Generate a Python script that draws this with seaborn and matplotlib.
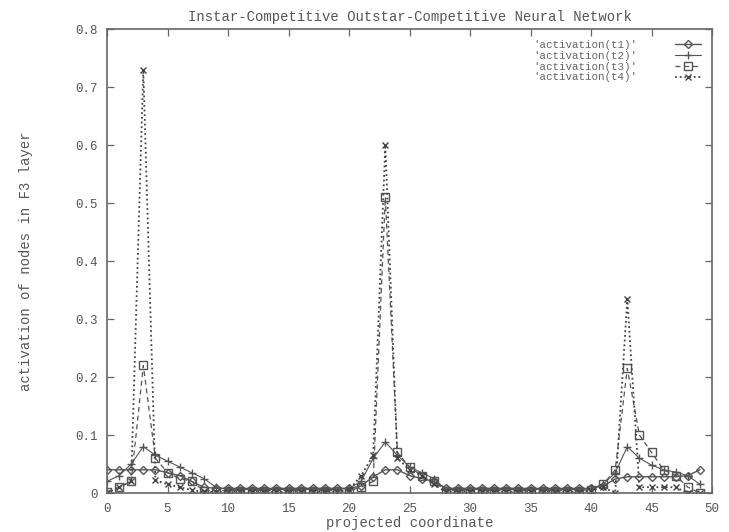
import matplotlib
matplotlib.use("Agg")
import matplotlib.pyplot as plt
import numpy as np
import pandas as pd
import seaborn as sns

# ---------------- data ----------------
coord = list(range(50))
t1 = [0.04, 0.04, 0.04, 0.04, 0.04, 0.035, 0.03, 0.02, 0.01, 0.008,
      0.008, 0.008, 0.008, 0.008, 0.008, 0.008, 0.008, 0.008, 0.008, 0.008,
      0.008, 0.012, 0.028, 0.04, 0.04, 0.03, 0.025, 0.02, 0.008, 0.008,
      0.008, 0.008, 0.008, 0.008, 0.008, 0.008, 0.008, 0.008, 0.008, 0.008,
      0.008, 0.012, 0.024, 0.028, 0.028, 0.028, 0.028, 0.028, 0.03, 0.04]
t2 = [0.02, 0.03, 0.05, 0.08, 0.065, 0.055, 0.045, 0.035, 0.025, 0.01,
      0.006, 0.006, 0.006, 0.006, 0.006, 0.006, 0.006, 0.006, 0.006, 0.006,
      0.008, 0.02, 0.06, 0.088, 0.065, 0.045, 0.035, 0.025, 0.006, 0.006,
      0.006, 0.006, 0.006, 0.006, 0.006, 0.006, 0.006, 0.006, 0.006, 0.006,
      0.008, 0.015, 0.035, 0.08, 0.06, 0.048, 0.04, 0.036, 0.03, 0.015]
t3 = [0.002, 0.01, 0.02, 0.22, 0.06, 0.035, 0.025, 0.02, 0.004, 0.004,
      0.004, 0.004, 0.004, 0.004, 0.004, 0.004, 0.004, 0.004, 0.004, 0.004,
      0.004, 0.01, 0.02, 0.51, 0.07, 0.045, 0.03, 0.02, 0.004, 0.004,
      0.004, 0.004, 0.004, 0.004, 0.004, 0.004, 0.004, 0.004, 0.004, 0.004,
      0.006, 0.015, 0.04, 0.215, 0.1, 0.07, 0.04, 0.03, 0.01, 0.0]
t4 = [0.0, 0.01, 0.02, 0.73, 0.022, 0.015, 0.01, 0.005, 0.002, 0.002,
      0.002, 0.002, 0.002, 0.002, 0.002, 0.002, 0.002, 0.002, 0.002, 0.002,
      0.005, 0.03, 0.065, 0.60, 0.06, 0.04, 0.03, 0.015, 0.002, 0.002,
      0.002, 0.002, 0.002, 0.002, 0.002, 0.002, 0.002, 0.002, 0.002, 0.002,
      0.004, 0.01, 0.0, 0.335, 0.01, 0.01, 0.01, 0.01, 0.0, 0.0]
series_names = ["'activation(t1)'", "'activation(t2)'",
                "'activation(t3)'", "'activation(t4)'"]
x_ticks = [0, 5, 10, 15, 20, 25, 30, 35, 40, 45, 50]
y_ticks = [0, 0.1, 0.2, 0.3, 0.4, 0.5, 0.6, 0.7, 0.8]
y_ticklabels = ["0", "0.1", "0.2", "0.3", "0.4", "0.5", "0.6", "0.7", "0.8"]

df = pd.DataFrame({
    "coord": coord * 4,
    "value": t1 + t2 + t3 + t4,
    "series": sum([[n] * len(coord) for n in series_names], []),
})

# ---------------- style ----------------
sns.set_theme(style="ticks")
plt.rcParams["font.family"] = ["Liberation Mono", "DejaVu Sans Mono"]
txt = "#555555"
edge = "#666666"

fig = plt.figure(figsize=(7.29, 5.32), dpi=100)
ax = fig.add_axes([107 / 729, 39 / 532, 605 / 729, 464 / 532])

styles = {
    series_names[0]: dict(marker="D", ls="-", lw=1.0, ms=4, color="#555555", mfc="none"),
    series_names[1]: dict(marker="+", ls="-", lw=0.8, ms=6, color="#555555", mfc="none"),
    series_names[2]: dict(marker="s", ls=(0, (4, 3)), lw=0.9, ms=6, color="#555555", mfc="none"),
    series_names[3]: dict(marker="x", ls=(0, (1, 1.6)), lw=1.3, ms=5, color="#444444", mfc="none"),
}

for name in series_names:
    st = styles[name]
    sns.lineplot(data=df[df["series"] == name], x="coord", y="value", ax=ax,
                 color=st["color"], linestyle=st["ls"], linewidth=st["lw"],
                 marker=st["marker"], markersize=st["ms"],
                 markerfacecolor=st["mfc"], markeredgecolor=st["color"],
                 markeredgewidth=1.0, label=name)

ax.set_xlim(0, 50)
ax.set_ylim(0, 0.8)
ax.set_xticks(x_ticks)
ax.set_xticklabels([str(v) for v in x_ticks])
ax.set_yticks(y_ticks)
ax.set_yticklabels(y_ticklabels)
ax.tick_params(direction="in", length=5, width=0.9, colors=edge,
               labelcolor=txt, labelsize=9, top=True, right=True, pad=7)
for sp in ax.spines.values():
    sp.set_color(edge)
    sp.set_linewidth(1.2)
    sp.set_visible(True)

ax.set_xlabel("projected coordinate", fontsize=10, color=txt, labelpad=1)
ax.set_ylabel("activation of nodes in F3 layer", fontsize=10, color=txt, labelpad=30)
ax.set_title("Instar-Competitive Outstar-Competitive Neural Network",
             fontsize=10, color=txt, pad=6)

leg = ax.legend(loc="upper right", frameon=False, markerfirst=False,
                fontsize=7.8, handlelength=2.4, labelspacing=0.08,
                borderaxespad=0.6, handletextpad=3.5)
for t in leg.get_texts():
    t.set_color("#666666")

fig.savefig("out.png", dpi=100, facecolor="white")
